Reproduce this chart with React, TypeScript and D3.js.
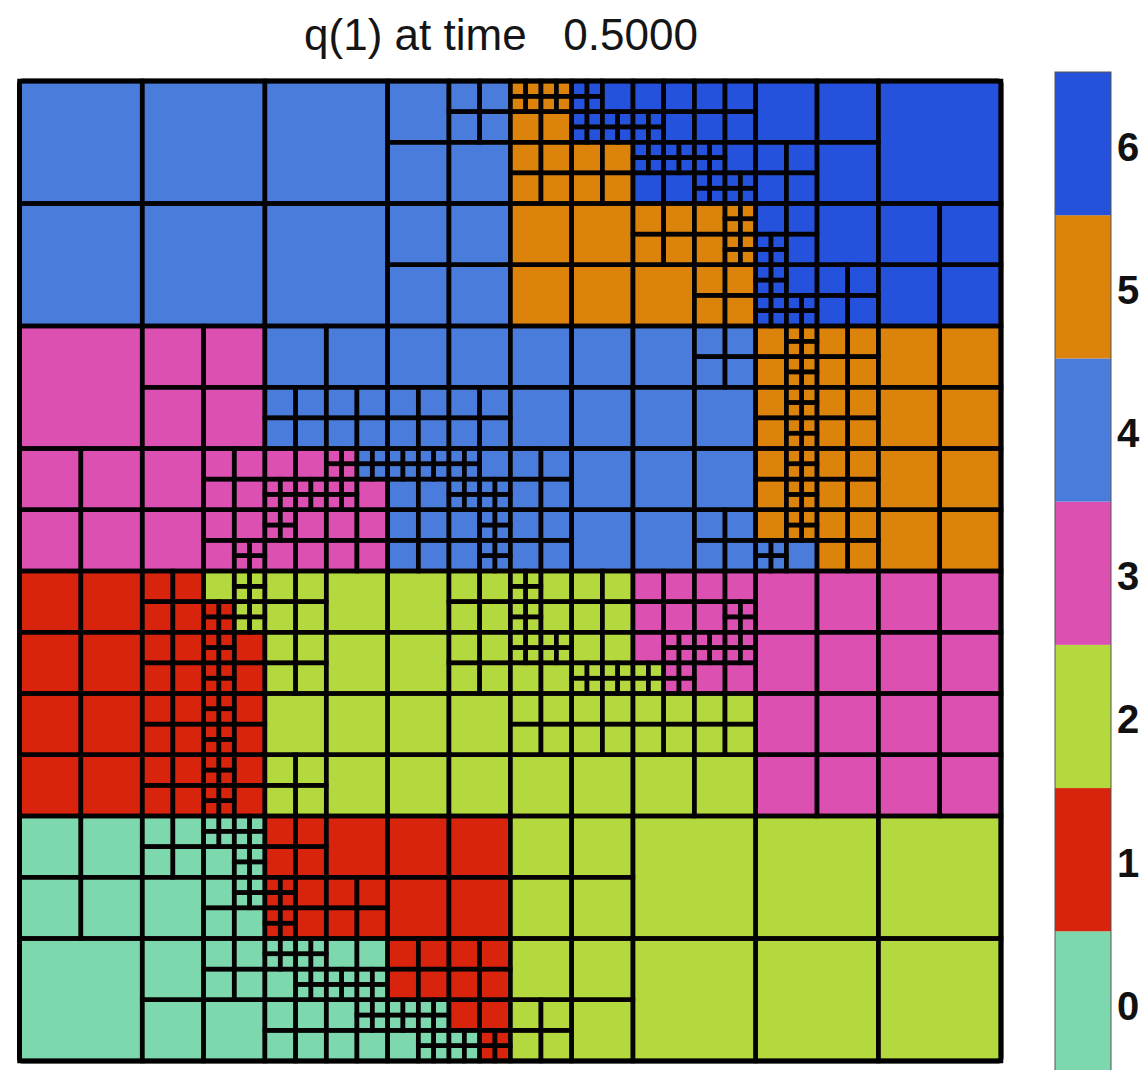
import React, { useMemo } from "react";
import * as d3 from "d3";

const TITLE = "q(1) at time   0.5000";

// Discrete colour levels of q and their colours.
const LEVELS = [0, 1, 2, 3, 4, 5, 6];
const LEVEL_COLORS = ["#7ed8ad", "#d8240c", "#b3d93f", "#dc50b1", "#4a7cdb", "#db830a", "#2552dc"];

// Adaptive mesh: one quadtree per coarse cell of the 8 x 8 base grid, rows from the top.
// A digit is a leaf carrying its q value; "[abcd]" refines a cell into TL, TR, BL, BR.
const ROW_0 = [
  "4", "4", "4", "[4[4444]44]",
  "[[[5555][5555]55][[6666]6[6666][6666]][5555][5555]]",
  "[[66[6666]6][6666][[6666][6666]66][[6666]6[6666][6666]]]",
  "[66[6666]6]", "6",
];
const ROW_1 = [
  "4", "4", "4", "[4444]", "[5555]",
  "[[5555][5[5555]5[5555]]5[5555]]",
  "[[66[6666]6]6[[6666]6[6666][6666]][6666]]",
  "[6666]",
];
const ROW_2 = [
  "3", "[3333]", "[44[4444][4444]]", "[44[4444][4444]]", "[4444]", "[4[4444]44]",
  "[[5[5555]5[5555]][5555][5[5555]5[5555]][5555]]",
  "[5555]",
];
const ROW_3 = [
  "[3333]",
  "[3[3333]3[333[3333]]]",
  "[[33[3333][3333]][[3333][4444][3333]3][[3333]333][3333]]",
  "[[[4444][4444]44][[4444]4[4444][4444]][4444][4[4444]4[4444]]]",
  "[[4444]4[4444]4]",
  "[444[4444]]",
  "[[5[5555]5[5555]][5555][5[5555][4444]4][5555]]",
  "[5555]",
];
const ROW_4 = [
  "[1111]",
  "[[1111][2[2222][1111][2222]][1111][[1111]1[1111]1]]",
  "[[2222]2[2222]2]",
  "[2[2222]2[2222]]",
  "[[[2222]2[2222]2][2222][[2222][2222]22][22[2222][2222]]]",
  "[[3333][333[3333]][3[3333][2222][3333]][[3333][3333]33]]",
  "[3333]",
  "[3333]",
];
const ROW_5 = [
  "[1111]",
  "[[1111][[1111]1[1111]1][1111][[1111]1[1111]1]]",
  "[22[2222]2]",
  "[2222]",
  "[[2222][2222]22]",
  "[[2222][2222]22]",
  "[3333]",
  "[3333]",
];
const ROW_6 = [
  "[0000]",
  "[[0000][[0000][0000]0[0000]]0[0[0000]00]]",
  "[[1111]1[[1111]1[1111]1][1111]]",
  "[1111]",
  "[2222]",
  "2", "2", "2",
];
const ROW_7 = [
  "0",
  "[0[0000]00]",
  "[[[0000][0000]0[0000]][00[0000][0000]][0000][0[0000]00]]",
  "[[1111][1111][[0000][0000]0[0000]][11[0000][1111]]]",
  "[22[2222]2]",
  "2", "2", "2",
];
const MESH_ROWS = [ROW_0, ROW_1, ROW_2, ROW_3, ROW_4, ROW_5, ROW_6, ROW_7];

type Leaf = { gx: number; gy: number; gs: number; v: number };

// Walk one quadtree string and emit its leaves in grid units.
function collectLeaves(code: string, gx: number, gy: number, out: Leaf[]) {
  let i = 0;
  const walk = (x: number, y: number, s: number) => {
    const ch = code[i];
    if (ch === "[") {
      i += 1;
      const h = s / 2;
      walk(x, y, h);
      walk(x + h, y, h);
      walk(x, y + h, h);
      walk(x + h, y + h, h);
      i += 1; // closing bracket
    } else {
      i += 1;
      out.push({ gx: x, gy: y, gs: s, v: +ch });
    }
  };
  walk(gx, gy, 1);
}

const W = 1141;
const H = 1070;
const PLOT = { left: 19.5, top: 81, right: 1001, bottom: 1061 };
const BAR = { left: 1055, right: 1111, top: 72, bottom: 1074.5 };

export default function App() {
  const leaves = useMemo(() => {
    const out: Leaf[] = [];
    MESH_ROWS.forEach((row, r) => row.forEach((code, c) => collectLeaves(code, c, r, out)));
    return out;
  }, []);

  const nx = MESH_ROWS[0].length;
  const ny = MESH_ROWS.length;
  const x = d3.scaleLinear().domain([0, nx]).range([PLOT.left, PLOT.right]);
  const y = d3.scaleLinear().domain([0, ny]).range([PLOT.top, PLOT.bottom]);
  const color = d3.scaleOrdinal<number, string>().domain(LEVELS).range(LEVEL_COLORS);

  // Colour bar: each level occupies a band centred on its value.
  const cb = d3
    .scaleLinear()
    .domain([LEVELS[0] - 0.5, LEVELS[LEVELS.length - 1] + 0.5])
    .range([BAR.bottom, BAR.top]);

  const font = '"Liberation Sans", Arial, Helvetica, sans-serif';

  return (
    <div style={{ position: "fixed", left: 0, top: 0, background: "#fff" }}>
      <svg width={W} height={H} viewBox={`0 0 ${W} ${H}`} style={{ display: "block" }}>
        <rect x={0} y={0} width={W} height={H} fill="#fff" />
        <text
          x={501}
          y={50}
          textAnchor="middle"
          fontFamily={font}
          fontSize={44}
          fill="#151515"
          style={{ whiteSpace: "pre" }}
          xmlSpace="preserve"
        >
          {TITLE}
        </text>

        <g>
          {leaves.map((d, i) => (
            <rect
              key={`f${i}`}
              x={x(d.gx)}
              y={y(d.gy)}
              width={x(d.gx + d.gs) - x(d.gx)}
              height={y(d.gy + d.gs) - y(d.gy)}
              fill={color(d.v)}
            />
          ))}
        </g>
        <g fill="none" stroke="#050203" strokeWidth={4.5}>
          {leaves.map((d, i) => (
            <rect
              key={`s${i}`}
              x={x(d.gx)}
              y={y(d.gy)}
              width={x(d.gx + d.gs) - x(d.gx)}
              height={y(d.gy + d.gs) - y(d.gy)}
            />
          ))}
        </g>
        <rect
          x={PLOT.left}
          y={PLOT.top}
          width={PLOT.right - PLOT.left}
          height={PLOT.bottom - PLOT.top}
          fill="none"
          stroke="#000"
          strokeWidth={5}
          rx={3}
        />

        <g>
          {LEVELS.map((v) => (
            <rect
              key={`b${v}`}
              x={BAR.left}
              y={cb(v + 0.5)}
              width={BAR.right - BAR.left}
              height={cb(v - 0.5) - cb(v + 0.5)}
              fill={color(v)}
            />
          ))}
          <rect
            x={BAR.left}
            y={BAR.top}
            width={BAR.right - BAR.left}
            height={BAR.bottom - BAR.top}
            fill="none"
            stroke="#555"
            strokeWidth={1}
          />
          {LEVELS.map((v) => (
            <text
              key={`t${v}`}
              x={1117}
              y={cb(v) + 17}
              fontFamily={font}
              fontSize={40}
              fontWeight="bold"
              fill="#111"
            >
              {v}
            </text>
          ))}
        </g>
      </svg>
    </div>
  );
}
